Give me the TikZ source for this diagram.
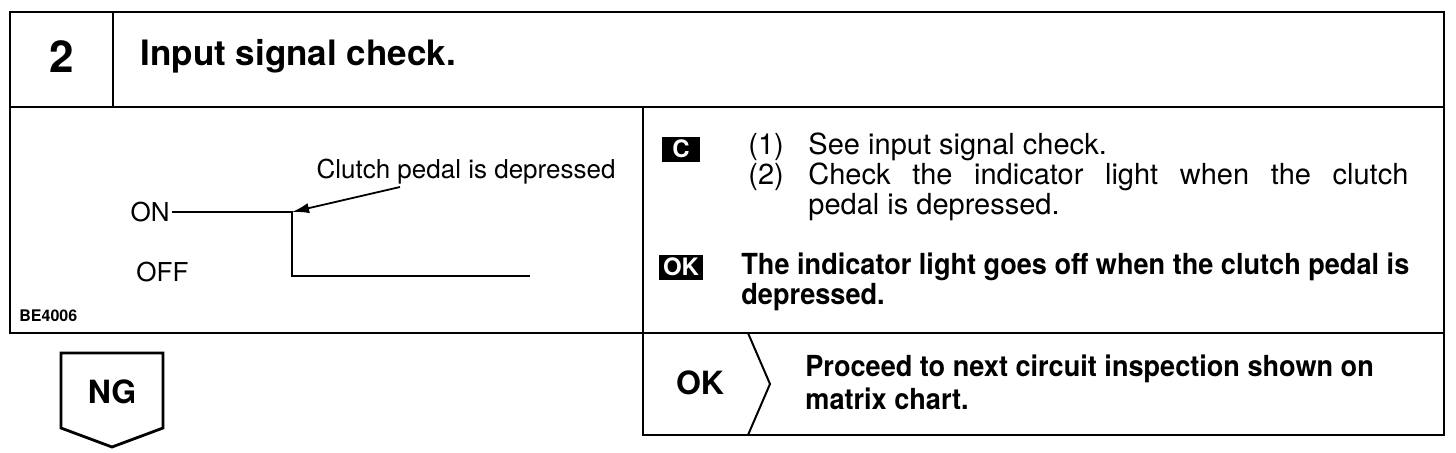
\documentclass[tikz,border=0pt]{standalone}
\usepackage{fontspec}
\setmainfont{TeX Gyre Heros}
\newfontfamily\narrowfont[FakeStretch=0.935]{TeX Gyre Heros}
\usetikzlibrary{positioning,arrows.meta,calc}

\begin{document}
\begin{tikzpicture}[
	x=0.5pt, y=-0.5pt,
	frame/.style={
		draw=black,
		line width=1.4pt
	},
	trace/.style={
		draw=black,
		line width=1pt
	},
	badge/.style={
		fill=black,
		text=white,
		inner sep=0pt,
		minimum height=12.5pt,
		font=\bfseries\fontsize{12}{12}\selectfont
	},
	body/.style={
		anchor=west,
		inner sep=0pt,
		font=\fontsize{14.5}{17}\selectfont
	},
	boldbody/.style={
		anchor=west,
		inner sep=0pt,
		font=\narrowfont\bfseries\fontsize{14.5}{16}\selectfont
	},
	label/.style={
		inner sep=1pt,
		font=\fontsize{13}{15}\selectfont
	},
	arr/.style={
		-{Latex[length=3mm,width=1.8mm]},
		draw=black,
		line width=0.9pt
	}
	]
	
	\useasboundingbox (0,0) rectangle (1456,452);
	
	% header
	\draw[frame] (10,12) rectangle (1444,333);
	\draw[frame] (10,107) -- (1444,107);
	\draw[frame] (113,12) -- (113,107);
	\draw[frame] (643,107) -- (643,333);
	
	\node[font=\bfseries\fontsize{22}{22}\selectfont] (num) at (62,57) {2};
	\node[anchor=west, inner sep=0pt, font=\bfseries\fontsize{17.5}{18}\selectfont] (title) at (140,56) {Input signal check.};
	
	% signal graph
	\node[label, anchor=east] (on) at (172,212) {ON};
	\node[label, anchor=west] (off) at (134,272) {OFF};
	\node[label] (pedal) at (466,172) {Clutch pedal is depressed};
	\coordinate (edge) at (292,212);
	\coordinate (low) at (292,276);
	\coordinate (offend) at (530,276);
	\coordinate (ptail) at (400,187);
	
	\draw[trace] (on.east) -- (edge) -- (low) -- (offend);
	\draw[arr] (ptail) -- (edge);
	
	\node[anchor=west, inner sep=0pt, font=\bfseries\fontsize{8}{8}\selectfont] (code) at (19,316) {BE4006};
	
	% check steps
	\node[badge, minimum width=19pt] (cbadge) at (681,149) {C};
	\node[body] (n1) at (748,147) {(1)};
	\node[body] (s1) at (808,147) {See input signal check.};
	\node[body] (n2) at (748,177) {(2)};
	\node[body] (s2) at (808,177) {\makebox[300pt][s]{Check the indicator light when the clutch}};
	\node[body] (s3) at (808,207) {pedal is depressed.};
	
	\node[badge, minimum width=22pt] (okbadge) at (681,267) {OK};
	\node[boldbody] (r1) at (741,267) {The indicator light goes off when the clutch pedal is};
	\node[boldbody] (r2) at (741,297) {depressed.};
	
	% result boxes
	\draw[frame] (643,333) rectangle (1444,435);
	\draw[trace] (748,333) -- (770,384) -- (748,435);
	\node[font=\bfseries\fontsize{16}{16}\selectfont] (okres) at (700,383) {OK};
	\node[boldbody] (p1) at (805,369) {Proceed to next circuit inspection shown on};
	\node[boldbody] (p2) at (805,399) {matrix chart.};
	
	\draw[frame] (61,353) -- (163,353) -- (163,428) -- (112,447) -- (61,428) -- cycle;
	\node[font=\bfseries\fontsize{16}{16}\selectfont] (ng) at (112,392) {NG};
	
\end{tikzpicture}
\end{document}
